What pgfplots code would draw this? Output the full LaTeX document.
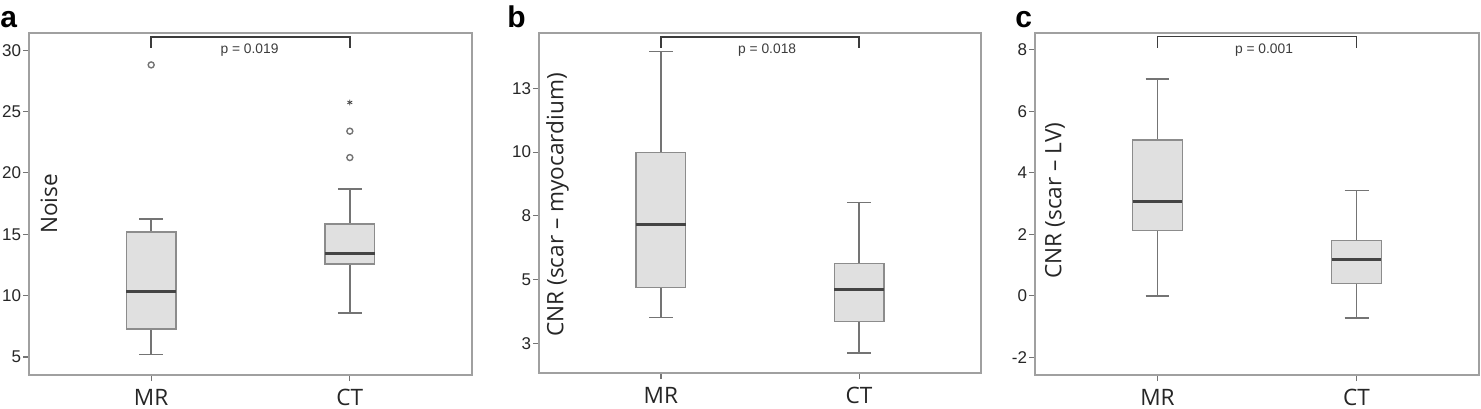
\documentclass[border=0pt]{standalone}
\usepackage{fontspec}
\setmainfont{Liberation Sans}
\newfontfamily\osans{Open Sans}
\usepackage{pgfplots}
\pgfplotsset{compat=1.18}
\usepgfplotslibrary{statistics}
\definecolor{boxfill}{HTML}{E0E0E0}
\definecolor{boxedge}{HTML}{8C8C8C}
\definecolor{whisk}{HTML}{747474}
\definecolor{med}{HTML}{444444}
\definecolor{frame}{HTML}{A0A0A0}
\definecolor{brk}{HTML}{3C3C3C}
\newcommand\tickf{\fontsize{8.5bp}{10bp}\selectfont}
\newcommand\labf{\osans\fontsize{11.3bp}{13bp}\selectfont}
\newcommand\pf{\fontsize{6.9bp}{8bp}\selectfont}
\pgfplotsset{
 panel/.style={
  scale only axis, clip=false,
  axis line style={draw=frame, line width=0.75bp},
  tick align=outside, tick pos=left,
  major tick length=3bp,
  tick style={draw=whisk, line width=0.6bp},
  xmin=0.385, xmax=2.615, xtick={1,2}, xticklabels={MR,CT},
  xticklabel style={font=\labf, text=black!85, yshift=-0.6bp},
  yticklabel style={font=\tickf, text=black!85, xshift=2.5bp},
  /pgf/number format/assume math mode=true,
  ylabel style={font=\labf, text=black!85, at={(axis description cs:0.045,0.5)}, anchor=center},
  boxplot/draw direction=y,
  boxplot/box extend=0.25,
  boxplot/whisker extend=0.12,
  boxplot/every box/.style={draw=boxedge, fill=boxfill, line width=0.75bp},
  boxplot/every whisker/.style={draw=whisk, line width=0.8bp},
  boxplot/every median/.style={draw=med, line width=1.5bp},
 },
 bx/.style={draw=whisk, mark=none, solid},
 outl/.style={only marks, mark=o, mark size=1.5bp, draw=whisk, mark options={line width=0.7bp}},
}
\begin{document}
\begin{tikzpicture}
\useasboundingbox (0,0) rectangle (740.5bp,204.5bp);
% ---------- panel a
\begin{axis}[panel, at={(14.5bp,17bp)}, anchor=south west, width=221.5bp, height=171bp,
  ymin=3.53, ymax=31.4, ytick={5,10,15,20,25,30}, ylabel={Noise}]
\addplot[bx, boxplot prepared={lower whisker=5.2, lower quartile=7.28, median=10.3, upper quartile=15.2, upper whisker=16.24, draw position=1}] coordinates {};
\addplot[bx, boxplot prepared={lower whisker=8.56, lower quartile=12.57, median=13.44, upper quartile=15.83, upper whisker=18.7, draw position=2}] coordinates {};
\addplot[outl] coordinates {(1,28.8) (2,21.25) (2,23.4)};
\addplot[only marks, mark=asterisk, mark size=1.4bp, draw=med] coordinates {(2,25.74)};
\draw[brk, line width=0.8bp] (axis cs:1,30.19) -- (axis cs:1,31.08) -- (axis cs:2,31.08) -- (axis cs:2,30.19);
\node[anchor=base, font=\pf, text=brk] at (axis cs:1.495,29.73) {p = 0.019};
\end{axis}
% ---------- panel b
\begin{axis}[panel, at={(269.5bp,18bp)}, anchor=south west, width=221bp, height=170bp,
  ymin=1.34, ymax=14.67, ytick={2.5,5,7.5,10,12.5}, yticklabels={3,5,8,10,13}, ylabel={CNR (scar – myocardium)}, ylabel style={at={(axis description cs:0.042,0.494)}}]
\addplot[bx, boxplot prepared={lower whisker=3.52, lower quartile=4.70, median=7.18, upper quartile=9.99, upper whisker=13.94, draw position=1}] coordinates {};
\addplot[bx, boxplot prepared={lower whisker=2.13, lower quartile=3.35, median=4.63, upper quartile=5.64, upper whisker=8.03, draw position=2}] coordinates {};
\draw[brk, line width=0.8bp] (axis cs:1,14.1) -- (axis cs:1,14.52) -- (axis cs:2,14.52) -- (axis cs:2,14.1);
\node[anchor=base, font=\pf, text=brk] at (axis cs:1.536,13.87) {p = 0.018};
\end{axis}
% ---------- panel c
\begin{axis}[panel, at={(517.5bp,17bp)}, anchor=south west, width=222bp, height=171bp,
  ymin=-2.58, ymax=8.55, ytick={-2,0,2,4,6,8}, ylabel={CNR (scar – LV)}, ylabel style={at={(axis description cs:0.045,0.51)}}]
\addplot[bx, boxplot prepared={lower whisker=0.0, lower quartile=2.12, median=3.05, upper quartile=5.07, upper whisker=7.05, draw position=1}] coordinates {};
\addplot[bx, boxplot prepared={lower whisker=-0.73, lower quartile=0.40, median=1.17, upper quartile=1.80, upper whisker=3.42, draw position=2}] coordinates {};
\draw[brk, line width=0.8bp] (axis cs:1,8.07) -- (axis cs:1,8.43) -- (axis cs:2,8.43) -- (axis cs:2,8.07);
\node[anchor=base, font=\pf, text=brk] at (axis cs:1.535,7.89) {p = 0.001};
\end{axis}
% ---------- panel letters
\node[anchor=base west, inner sep=0pt, font=\fontsize{15bp}{16bp}\selectfont\bfseries] at (0bp,190.5bp) {a};
\node[anchor=base west, inner sep=0pt, font=\fontsize{15bp}{16bp}\selectfont\bfseries] at (253.5bp,190.5bp) {b};
\node[anchor=base west, inner sep=0pt, font=\fontsize{15bp}{16bp}\selectfont\bfseries] at (507.5bp,190.5bp) {c};
\end{tikzpicture}
\end{document}
